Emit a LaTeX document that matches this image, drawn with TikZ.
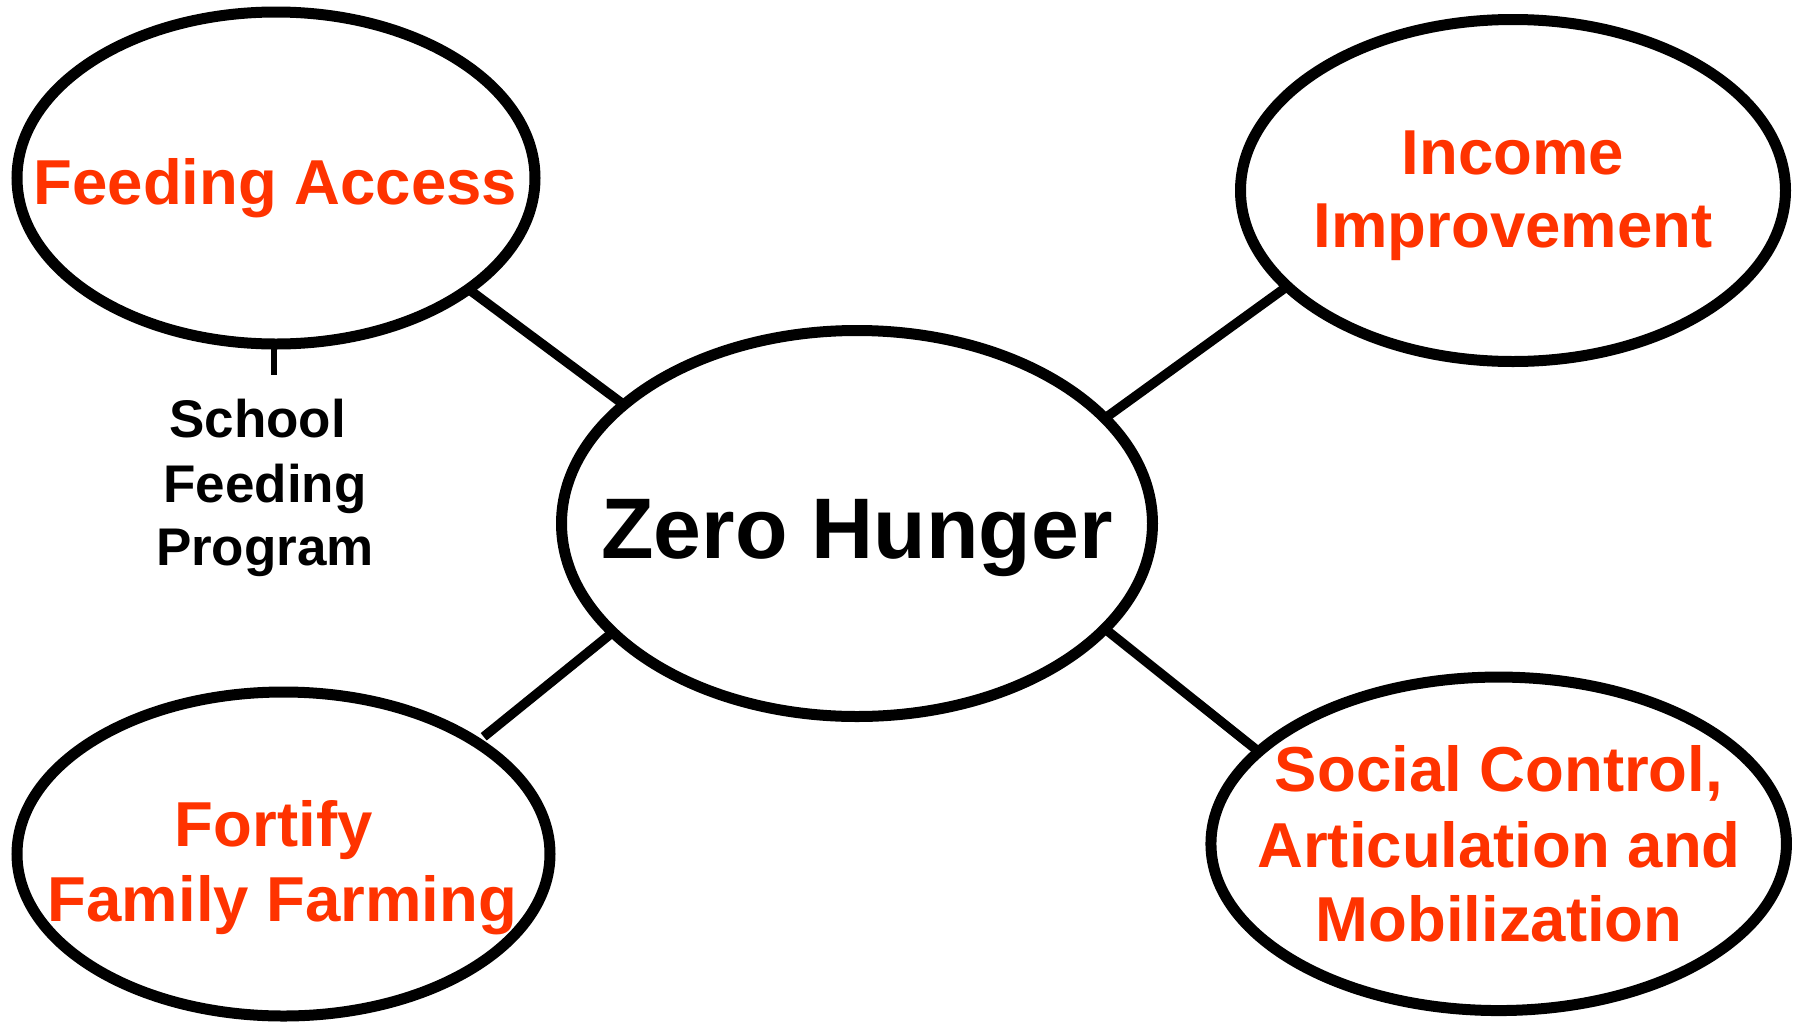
\documentclass[tikz,border=0pt]{standalone}
\usepackage{fontspec}
\setmainfont{Liberation Sans}
\usetikzlibrary{shapes.geometric}
\definecolor{hred}{RGB}{255,51,0}
\begin{document}
\begin{tikzpicture}[x=1pt,y=-1pt,
  ell/.style={ellipse, draw=black, line width=11pt, inner sep=0pt, outer sep=0pt},
  conn/.style={line width=9.5pt, draw=black},
  tickline/.style={line width=6pt, draw=black},
  redtxt/.style={text=hred, font=\fontsize{63.5}{75}\selectfont\bfseries, inner sep=0pt, anchor=base},
  blktxt/.style={text=black, font=\fontsize{53}{64}\selectfont\bfseries, inner sep=0pt, anchor=base},
  bigtxt/.style={text=black, font=\fontsize{86}{100}\selectfont\bfseries, inner sep=0pt, anchor=base}]
\useasboundingbox (0,0) rectangle (1800,1031);
\fill[white] (0,0) rectangle (1800,1031);

% ellipses
\node[ell, minimum width=518pt, minimum height=332pt] (fa) at (276,178) {};
\node[ell, minimum width=545pt, minimum height=342pt] (ii) at (1513,190.5) {};
\node[ell, minimum width=591pt, minimum height=386pt] (zh) at (857,523.5) {};
\node[ell, minimum width=533pt, minimum height=324pt] (ff) at (283.5,854) {};
\node[ell, minimum width=575.5pt, minimum height=333.5pt] (sc) at (1498.7,843.8) {};

% texts
\node[redtxt] (fat) at (275.5,204) {Feeding Access};
\node[redtxt] (iit1) at (1513,174.5) {Income};
\node[redtxt] (iit2) at (1513,247.5) {Improvement};
\node[bigtxt] (zht) at (857,558) {Zero Hunger};
\node[redtxt] (fft1) at (282.5,846) {Fortify\kern0.278em};
\node[redtxt] (fft2) at (282.5,921) {Family Farming};
\node[redtxt] (sct1) at (1499,791) {Social Control,};
\node[redtxt] (sct2) at (1499,867) {Articulation and};
\node[redtxt] (sct3) at (1499,941) {Mobilization};
\node[blktxt] (sf1) at (265,437) {School\kern0.278em};
\node[blktxt] (sf2) at (265,502) {Feeding};
\node[blktxt] (sf3) at (265,565) {Program};

% connectors
\draw[conn] (fa.-30.06) -- (zh.153.2);
\draw[conn] (zh.23.28) -- (ii.-157.14);
\draw[conn, shorten >=9pt] (zh.-156.84) -- (ff.30.35);
\draw[conn] (zh.-23.47) -- (sc.159.38);

\coordinate (tk) at (274,375);
\draw[tickline] (tk |- fa.south) -- (tk);
\end{tikzpicture}
\end{document}
